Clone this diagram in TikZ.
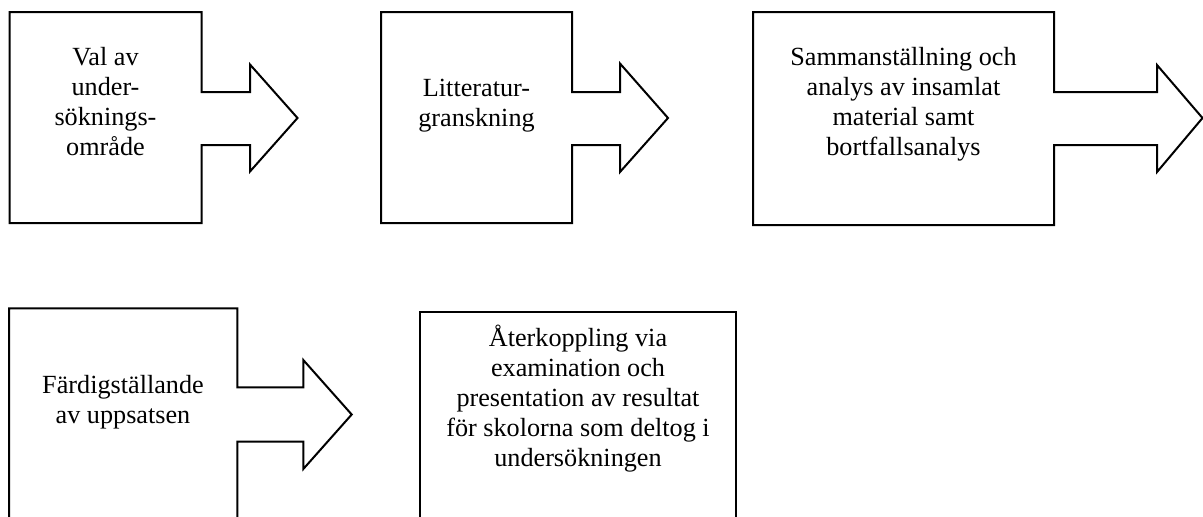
\documentclass[tikz,border=0pt]{standalone}
\usepackage{fontspec}
\setmainfont{Liberation Serif}
\tikzstyle{outline}=[draw=black,line width=1pt,line join=miter]
\tikzstyle{steptext}=[align=center,inner sep=0pt,font=\fontsize{13.1}{15}\selectfont]

\begin{document}
\begin{tikzpicture}[x=0.5pt,y=-0.5pt]
            \path[use as bounding box,clip] (0,0) rectangle (1203,516);

            % FIRST ROW

            \draw[outline] (9.5,12) -- (201.5,12) -- (201.5,92) -- (250,92) -- (250,64.5) -- (297.5,118)
                -- (250,171.5) -- (250,145) -- (201.5,145) -- (201.5,223) -- (9.5,223) -- cycle;
            \node[steptext] (val) at (105.5,101.8) {Val av\\under-\\söknings-\\område};

            \draw[outline] (381,12) -- (572,12) -- (572,92) -- (620,92) -- (620,63.5) -- (668,118)
                -- (620,172) -- (620,145) -- (572,145) -- (572,223) -- (381,223) -- cycle;
            \node[steptext] (litt) at (476.5,105.6) {Litteratur-\\granskning};

            \draw[outline] (753,12) -- (1054,12) -- (1054,92) -- (1157,92) -- (1157,65) -- (1202.5,118)
                -- (1157,172) -- (1157,145) -- (1054,145) -- (1054,225) -- (753,225) -- cycle;
            \node[steptext] (analys) at (903.5,103.9) {Sammanställning och\\analys av insamlat\\material samt\\bortfallsanalys};

            % SECOND ROW

            \draw[outline] (9,308.3) -- (237.3,308.3) -- (237.3,387.3) -- (303.3,387.3) -- (303.3,360) -- (351.7,414.5)
                -- (303.3,469) -- (303.3,441.5) -- (237.3,441.5) -- (237.3,530) -- (9,530) -- cycle;
            \node[steptext] (uppsats) at (123,401.9) {Färdigställande\\av uppsatsen};

            \draw[outline] (420,312.3) -- (735.5,312.3) -- (735.5,530) -- (420,530) -- cycle;
            \node[steptext] (aterk) at (578,398.2) {Återkoppling via\\examination och\\presentation av resultat\\för skolorna som deltog i\\undersökningen};

        \end{tikzpicture}
\end{document}
